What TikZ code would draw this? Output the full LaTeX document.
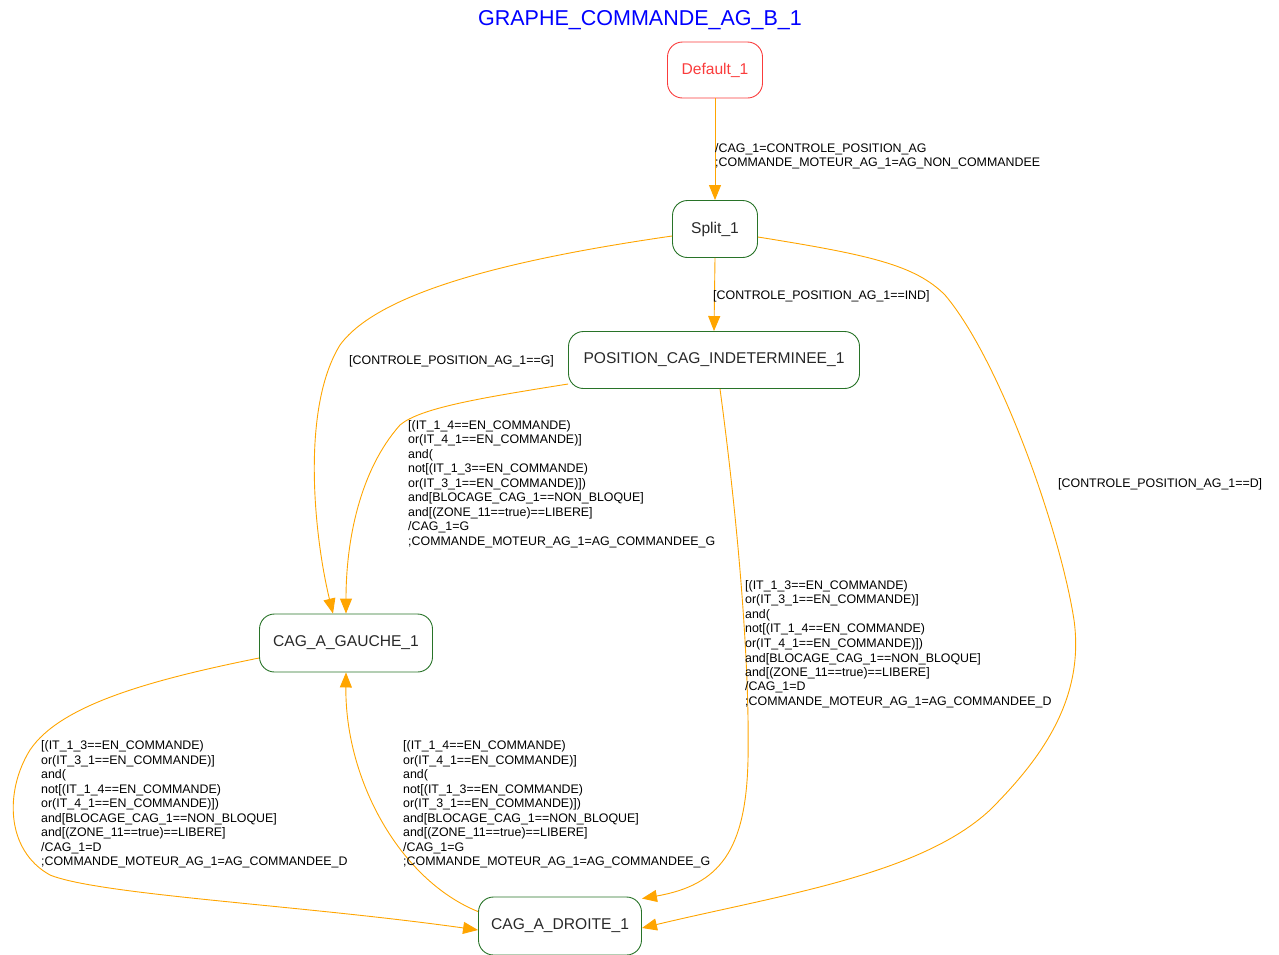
\documentclass[tikz,border=0pt]{standalone}
\usepackage{fontspec}
\setmainfont{Liberation Sans}
\usetikzlibrary{arrows.meta}
\definecolor{edgeor}{RGB}{255,165,0}
\definecolor{stgreen}{RGB}{40,115,40}
\definecolor{initred}{RGB}{250,60,60}
\definecolor{txtgrey}{RGB}{40,40,40}
\begin{document}
\begin{tikzpicture}[x=1pt,y=-1pt,
  state/.style={draw=stgreen,line width=0.9pt,rounded corners=15pt,
    text=txtgrey,font=\fontsize{15.6}{18}\selectfont,inner sep=0pt},
  initstate/.style={state,draw=initred,text=initred},
  trans/.style={draw=edgeor,line width=0.9pt,
    -{Triangle[length=15pt,width=12pt,fill=edgeor]}},
  guard/.style={anchor=north west,inner sep=0pt,align=left,text=black,
    font=\fontsize{12.4}{14.5}\selectfont}]
\useasboundingbox (0,0) rectangle (1279,954);

% title
\node[text=blue,font=\fontsize{21.5}{24}\selectfont] (title) at (640,20) {GRAPHE\_COMMANDE\_AG\_B\_1};

% states
\node[initstate,minimum width=95pt,minimum height=56pt] (def) at (715,70) {Default\_1};
\node[state,minimum width=85pt,minimum height=57pt] (split) at (715,229) {Split\_1};
\node[state,minimum width=291pt,minimum height=57pt] (pos) at (714,360) {POSITION\_CAG\_INDETERMINEE\_1};
\node[state,minimum width=173pt,minimum height=58pt] (gauche) at (346,643) {CAG\_A\_GAUCHE\_1};
\node[state,minimum width=163pt,minimum height=58pt] (droite) at (560,926) {CAG\_A\_DROITE\_1};

% transitions
\draw[trans] (def.south) -- (split.north);
\draw[trans] (split.south) -- (pos.north);
\draw[trans] ([yshift=-7pt]split.west) .. controls (520,258) and (380,290) .. (340,345)
  .. controls (300,410) and (315,540) .. ([xshift=-13pt]gauche.north);
\draw[trans] ([yshift=-8pt]split.east) .. controls (870,255) and (915,265) .. (945,295)
  .. controls (1000,360) and (1060,530) .. (1074,620)
  .. controls (1085,700) and (1040,760) .. (990,810)
  .. controls (920,875) and (780,895) .. ([yshift=-2pt]droite.east);
\draw[trans] ([yshift=-24pt]pos.west) .. controls (480,398) and (420,408) .. (400,425)
  .. controls (360,470) and (346,540) .. (gauche.north);
\draw[trans] ([xshift=6pt]pos.south) .. controls (735,500) and (750,650) .. (748,760)
  .. controls (746,850) and (720,885) .. ([yshift=-2pt]droite.north east);
\draw[trans] ([yshift=-15pt]gauche.west) .. controls (150,680) and (60,705) .. (30,750)
  .. controls (5,790) and (5,850) .. (50,875)
  .. controls (100,895) and (300,905) .. ([yshift=-4pt]droite.west);
\draw[trans] ([yshift=-15pt]droite.north west) .. controls (400,880) and (345,780) .. (gauche.south);

% guards and actions
\node[guard] (l1) at (715,143.3) {/CAG\_1=CONTROLE\_POSITION\_AG\\;COMMANDE\_MOTEUR\_AG\_1=AG\_NON\_COMMANDEE};
\node[guard] (l2) at (713,290.3) {[CONTROLE\_POSITION\_AG\_1==IND]};
\node[guard] (l3) at (349,355.3) {[CONTROLE\_POSITION\_AG\_1==G]};
\node[guard] (l4) at (1058,478.3) {[CONTROLE\_POSITION\_AG\_1==D]};
\node[guard] (l5) at (408,420.3) {[(IT\_1\_4==EN\_COMMANDE)\\or(IT\_4\_1==EN\_COMMANDE)]\\and(\\not[(IT\_1\_3==EN\_COMMANDE)\\or(IT\_3\_1==EN\_COMMANDE)])\\and[BLOCAGE\_CAG\_1==NON\_BLOQUE]\\and[(ZONE\_11==true)==LIBERE]\\/CAG\_1=G\\;COMMANDE\_MOTEUR\_AG\_1=AG\_COMMANDEE\_G};
\node[guard] (l6) at (745,580.3) {[(IT\_1\_3==EN\_COMMANDE)\\or(IT\_3\_1==EN\_COMMANDE)]\\and(\\not[(IT\_1\_4==EN\_COMMANDE)\\or(IT\_4\_1==EN\_COMMANDE)])\\and[BLOCAGE\_CAG\_1==NON\_BLOQUE]\\and[(ZONE\_11==true)==LIBERE]\\/CAG\_1=D\\;COMMANDE\_MOTEUR\_AG\_1=AG\_COMMANDEE\_D};
\node[guard] (l7) at (41,740.3) {[(IT\_1\_3==EN\_COMMANDE)\\or(IT\_3\_1==EN\_COMMANDE)]\\and(\\not[(IT\_1\_4==EN\_COMMANDE)\\or(IT\_4\_1==EN\_COMMANDE)])\\and[BLOCAGE\_CAG\_1==NON\_BLOQUE]\\and[(ZONE\_11==true)==LIBERE]\\/CAG\_1=D\\;COMMANDE\_MOTEUR\_AG\_1=AG\_COMMANDEE\_D};
\node[guard] (l8) at (403,740.3) {[(IT\_1\_4==EN\_COMMANDE)\\or(IT\_4\_1==EN\_COMMANDE)]\\and(\\not[(IT\_1\_3==EN\_COMMANDE)\\or(IT\_3\_1==EN\_COMMANDE)])\\and[BLOCAGE\_CAG\_1==NON\_BLOQUE]\\and[(ZONE\_11==true)==LIBERE]\\/CAG\_1=G\\;COMMANDE\_MOTEUR\_AG\_1=AG\_COMMANDEE\_G};
\end{tikzpicture}
\end{document}
